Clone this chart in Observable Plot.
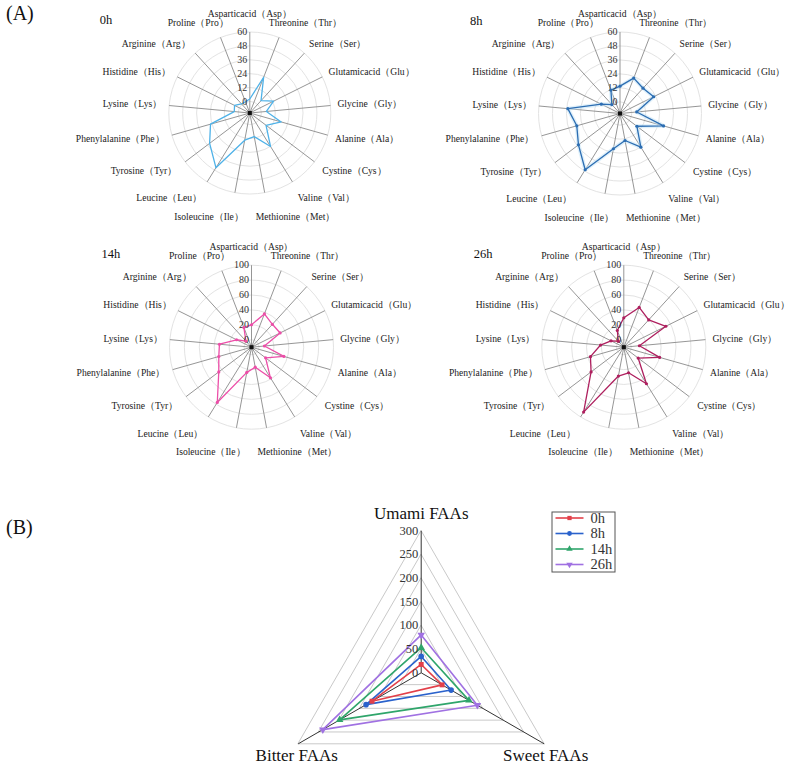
<!DOCTYPE html>
<html><head><meta charset="utf-8">
<script src="https://cdn.jsdelivr.net/npm/d3@7"></script>
<script src="https://cdn.jsdelivr.net/npm/@observablehq/plot@0.6"></script>
<style>
body{margin:0;background:#fff}
#root{position:relative;width:790px;height:765px;font-family:"Liberation Serif","Times New Roman",serif;color:#111;overflow:hidden}
.panel{position:absolute}
.tag{position:absolute;font-size:20px;line-height:1}
</style>
</head><body><div id="root"></div>
<script>
// ---------- data ----------
const aminoAcids = ["Asparticacid（Asp）","Threonine（Thr）","Serine（Ser）","Glutamicacid（Glu）","Glycine（Gly）","Alanine（Ala）","Cystine（Cys）","Valine（Val）","Methionine（Met）","Isoleucine（Ile）","Leucine（Leu）","Tyrosine（Tyr）","Phenylalanine（Phe）","Lysine（Lys）","Histidine（His）","Arginine（Arg）","Proline（Pro）"];
const faa0h  = [2.1, 23.1, 4.4, 13, 4.4, 18.2, 7.6, 24, 10.7, 13.9, 45.6, 33.5, 25.3, 3.5, 4.7, 0.7, 0.4];
const faa8h  = [13.5, 22.6, 19.4, 22.3, 4.4, 28.9, 8.2, 24, 13.6, 20.8, 46.8, 34.7, 28.6, 35, 7.9, 0.4, 11.6];
const faa14h = [20, 37.9, 31.6, 32.9, 7.4, 35.2, 13.7, 38.3, 17.3, 24.4, 77.2, 45, 35.6, 33.2, 12.4, 1.2, 18.2];
const faa26h = [29.4, 47.2, 39.6, 53, 11, 40, 14.1, 47.7, 24.9, 29.4, 92.4, 45, 36.5, 21.3, 9.2, 1, 14];
const ticks60 = [0, 12, 24, 36, 48, 60];
const ticks100 = [0, 20, 40, 60, 80, 100];

const tasteAxes = ["Umami FAAs", "Sweet FAAs", "Bitter FAAs"];
const hours = ["0h", "8h", "14h", "26h"];
const taste0h  = [17.6, 51, 120];
const taste8h  = [34.6, 73, 134.5];
const taste14h = [53, 116.5, 199];
const taste26h = [80, 137, 240];
const tasteTicks = [0, 50, 100, 150, 200, 250, 300];

// ---------- helpers ----------
const root = document.getElementById("root");
const SERIF = '"Liberation Serif","Times New Roman",serif';
const ctx = document.createElement("canvas").getContext("2d");
function textWidth(t, fs) { ctx.font = `${fs}px ${SERIF}`; return ctx.measureText(t).width; }
function linScale(domain, range) {
  const s = Plot.scale({x: {type: "linear", domain, range}});
  return s.apply ? (v) => s.apply(v) : d3.scaleLinear(domain, range);
}
function place(el, left, top) {
  const wrap = document.createElement("div");
  wrap.className = "panel"; wrap.style.left = left + "px"; wrap.style.top = top + "px";
  wrap.appendChild(el); root.appendChild(wrap);
}
function tag(text, left, top) {
  const d = document.createElement("div"); d.className = "tag";
  d.textContent = text; d.style.left = left + "px"; d.style.top = top + "px"; root.appendChild(d);
}

// ---------- small radar (panel A) ----------
function smallRadar({values, ticks, max, color, halo, markers, title, left, top, width, height, cx, cy, R}) {
  const n = aminoAcids.length;
  const r = linScale([-10, max], [0, R]);
  const ang = (i) => i * 2 * Math.PI / n;
  const px = (i, rad) => rad * Math.sin(ang(i));
  const py = (i, rad) => -rad * Math.cos(ang(i));
  const pts = values.map((v, i) => ({x: px(i, r(v)), y: py(i, r(v))}));
  const fs = 9.6;
  const labels = aminoAcids.map((name, i) => {
    const a = ang(i), s = Math.sin(a), c = Math.cos(a);
    const w = textWidth(name, fs);
    const side = Math.sign(Math.round(s * 1e6));
    const d = R + 7 + (c < 0 ? 8 * c * c : 0);
    const f = Math.min(1, Math.abs(s) * 1.8);
    const y = -d * c - c * 5 - c * Math.pow(Math.abs(c), 8) * 6;
    if (c < -0.95) return {name, x: side * (6 + w / 2), y};
    return {name, x: d * s + side * f * w / 2, y};
  });
  const marks = [
    Plot.dot(ticks, {x: () => 0, y: () => 0, r: (t) => r(t), stroke: "#e3e3e3", strokeWidth: 1, fill: "none"}),
    Plot.link(aminoAcids, {x1: () => 0, y1: () => 0, x2: (d, i) => px(i, R), y2: (d, i) => py(i, R), stroke: "#8a8a8a", strokeWidth: 0.9}),
  ];
  if (halo) marks.push(Plot.line(pts, {x: "x", y: "y", curve: "linear-closed", stroke: halo, strokeWidth: 4, strokeOpacity: 0.5}));
  marks.push(
    Plot.line(pts, {x: "x", y: "y", curve: "linear-closed", stroke: color, strokeWidth: 1.3}),
    Plot.dot([0], {x: () => 0, y: () => 0, symbol: "square", r: 2.3, fill: "#111"}),
    Plot.text(ticks, {x: () => -2.5, y: (t) => -r(t), text: (t) => String(t), textAnchor: "end", fontSize: 10, fill: "#333"}),
    Plot.text(labels, {x: "x", y: "y", text: "name", textAnchor: "middle", fontSize: fs, fill: "#222"}),
    Plot.text([title], {x: () => -150, y: () => -93, text: (d) => d, textAnchor: "start", fontSize: 12.5, fill: "#111"})
  );
  if (markers) marks.push(Plot.dot(pts, {x: "x", y: "y", r: 1.6, fill: color}));
  const svg = Plot.plot({
    width, height, margin: 0,
    x: {domain: [-cx, width - cx], range: [0, width], axis: null},
    y: {domain: [-cy, height - cy], range: [0, height], axis: null},
    r: {type: "identity"},
    style: {fontFamily: SERIF, background: "transparent", overflow: "visible"},
    marks
  });
  place(svg, left, top);
}

smallRadar({values: faa0h, ticks: ticks60, max: 60, color: "#4FB2E8", markers: false, title: "0h",
  left: 40, top: 0, width: 360, height: 232, cx: 209.3, cy: 112.5, R: 81});
smallRadar({values: faa8h, ticks: ticks60, max: 60, color: "#2C6DB2", halo: "#bfe2f6", markers: true, title: "8h",
  left: 420, top: 0, width: 370, height: 232, cx: 199.5, cy: 113, R: 81.5});
smallRadar({values: faa14h, ticks: ticks100, max: 100, color: "#EC4EA8", markers: true, title: "14h",
  left: 40, top: 232, width: 360, height: 233, cx: 211, cy: 114.7, R: 82});
smallRadar({values: faa26h, ticks: ticks100, max: 100, color: "#AE1F5E", markers: true, title: "26h",
  left: 420, top: 232, width: 370, height: 233, cx: 203.3, cy: 114.7, R: 82});

// ---------- panel B ----------
(function () {
  const width = 460, height = 275, cx = 230.7, cy = 182.3, R = 142;
  const r = linScale([0, 300], [0, R]);
  const ang = (i) => i * 2 * Math.PI / tasteAxes.length;
  const px = (i, rad) => rad * Math.sin(ang(i));
  const py = (i, rad) => -rad * Math.cos(ang(i));
  const seriesValues = [taste0h, taste8h, taste14h, taste26h];
  const colors = ["#E2404A", "#2A62CC", "#2FA56B", "#A071E2"];
  const triangleDown = {draw(c, size) {
    const h = Math.sqrt(size / (Math.sqrt(3) / 4)); const y = h / Math.sqrt(3);
    c.moveTo(0, y); c.lineTo(h / 2, -y / 2); c.lineTo(-h / 2, -y / 2); c.closePath(); }};
  const symbols = ["square", "circle", "triangle", triangleDown];
  const grid = tasteTicks.slice(1).flatMap((t) => tasteAxes.map((a, i) => ({t, x: px(i, r(t)), y: py(i, r(t))})));
  const series = hours.flatMap((h, k) => seriesValues[k].map((v, i) => ({h, k, x: px(i, r(v)), y: py(i, r(v))})));
  const legend = hours.map((h, k) => ({h, k, y: -154.8 + k * 15.5}));
  const marks = [
    Plot.line(grid, {x: "x", y: "y", z: "t", curve: "linear-closed", stroke: "#c9c9c9", strokeWidth: 1}),
    Plot.link(tasteAxes, {x1: () => 0, y1: () => 0, x2: (d, i) => px(i, R), y2: (d, i) => py(i, R), stroke: "#333", strokeWidth: 1}),
    Plot.line(series, {x: "x", y: "y", z: "h", curve: "linear-closed", stroke: (d) => colors[d.k], strokeWidth: 1.6}),
    Plot.dot(series, {x: "x", y: "y", symbol: (d) => symbols[d.k], r: 2.8, fill: (d) => colors[d.k]}),
    Plot.text(tasteTicks, {x: () => -3, y: (t) => -r(t), text: (t) => String(t), textAnchor: "end", fontSize: 12.5, fill: "#333"}),
    Plot.text(tasteAxes, {
      x: (d, i) => i === 0 ? 0 : px(i, R) + (i === 1 ? 1.5 : -1.5),
      y: (d, i) => i === 0 ? -R - 17.6 : py(i, R) + 11.5,
      text: (d) => d, textAnchor: (d, i) => i === 0 ? "middle" : i === 1 ? "start" : "end",
      fontSize: 17, fill: "#111"}),
    Plot.rect([0], {x1: () => 131.3, x2: () => 194.3, y1: () => -160.3, y2: () => -100.3, fill: "white", stroke: "#555", strokeWidth: 1}),
    Plot.link(legend, {x1: () => 134.3, x2: () => 162.3, y1: "y", y2: "y", stroke: (d) => colors[d.k], strokeWidth: 1.6}),
    Plot.dot(legend, {x: () => 148.3, y: "y", symbol: (d) => symbols[d.k], r: 2.4, fill: (d) => colors[d.k]}),
    Plot.text(legend, {x: () => 169.3, y: "y", text: "h", textAnchor: "start", fontSize: 14.5, fill: "#333"})
  ];
  const svg = Plot.plot({
    width, height, margin: 0,
    x: {domain: [-cx, width - cx], range: [0, width], axis: null},
    y: {domain: [-cy, height - cy], range: [0, height], axis: null},
    color: {type: "identity"}, symbol: {type: "identity"},
    style: {fontFamily: SERIF, background: "transparent", overflow: "visible"},
    marks
  });
  place(svg, 190, 490);
})();

tag("(A)", 6, 3);
tag("(B)", 6, 517);
</script>
</body></html>
